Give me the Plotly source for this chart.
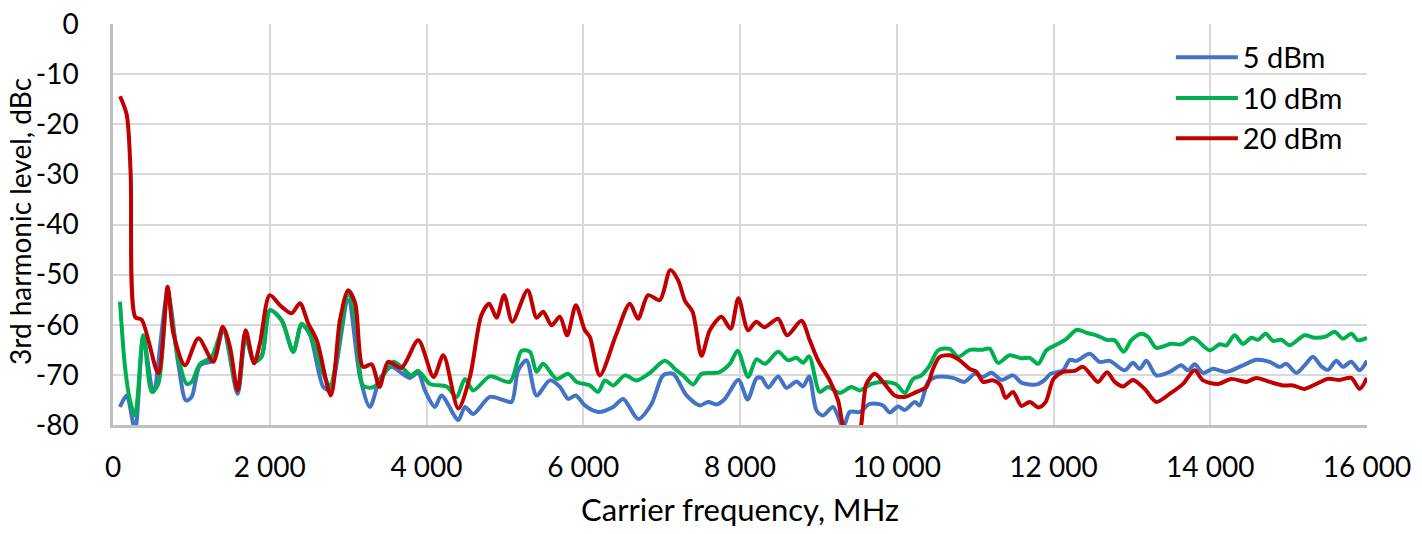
import plotly.graph_objects as go

# ---- data ----
red_f = [90,175,225,285,366,578,697,770,918,1090,1280,1400,1492,1590,1692,1800,1875,2000,2130,2280,2385,2490,2600,2780,2895,3000,3090,3190,3300,3400,3510,3680,3895,4090,4215,4405,4554,4700,4800,4894,4990,5095,5290,5404,5489,5596,5702,5795,5906,6020,6084,6212,6424,6594,6700,6828,6977,7110,7210,7300,7395,7509,7615,7764,7880,7980,8103,8206,8310,8486,8601,8784,8890,8996,9145,9251,9358,9506,9613,9719,9825,9974,10102,10251,10379,10463,10548,10676,10804,10931,11017,11101,11228,11320,11390,11484,11591,11697,11810,11900,12000,12121,12270,12376,12483,12568,12683,12781,12887,13015,13163,13312,13482,13652,13801,13907,14098,14268,14461,14588,14758,14927,15055,15204,15353,15501,15650,15799,15906,16000]
red_db = [-14.4,-18.1,-29.7,-58.5,-59.0,-69.7,-52.4,-61.7,-68.1,-62.7,-67.4,-60.4,-64.4,-73.1,-61.1,-67.7,-63.7,-54.1,-56.1,-57.7,-55.7,-59.7,-63.1,-74.1,-59.1,-53.1,-55.7,-68.4,-67.9,-72.4,-67.4,-68.6,-63.1,-70.4,-66.1,-76.7,-70.4,-58.1,-55.8,-58.6,-54.1,-59.4,-53.1,-58.6,-57.4,-60.1,-58.4,-62.1,-56.1,-61.1,-62.4,-70.1,-61.8,-55.8,-58.8,-54.1,-55.1,-49.1,-51.1,-55.3,-57.4,-66.2,-61.1,-58.4,-60.8,-54.7,-61.1,-59.4,-60.5,-58.8,-62.1,-59.2,-63.1,-67.1,-71.1,-75.1,-82.0,-82.0,-71.8,-69.8,-71.4,-74.1,-74.4,-73.4,-72.4,-68.8,-66.4,-66.1,-67.1,-68.8,-69.4,-71.4,-71.1,-72.0,-74.6,-73.4,-76.2,-75.4,-76.5,-75.4,-70.8,-69.4,-69.2,-68.4,-70.1,-71.4,-69.5,-71.4,-72.3,-71.0,-72.8,-75.4,-73.8,-71.8,-69.1,-71.1,-71.8,-70.8,-71.4,-70.6,-71.4,-72.1,-72.1,-72.8,-71.8,-70.8,-71.0,-70.6,-72.8,-70.6]

green_f = [89,153,217,281,387,494,578,697,812,940,1004,1110,1259,1407,1590,1692,1798,1897,2003,2152,2300,2407,2513,2683,2768,3001,3108,3193,3330,3448,3575,3682,3799,3894,4043,4256,4384,4490,4596,4809,5064,5213,5319,5404,5489,5660,5808,5915,6084,6190,6276,6382,6531,6680,6850,7041,7190,7274,7402,7509,7730,7870,7970,8103,8210,8320,8486,8614,8721,8805,8882,9018,9124,9273,9422,9528,9677,9825,9996,10102,10208,10315,10421,10527,10676,10782,10931,11080,11186,11292,11440,11590,11697,11803,11910,12058,12165,12300,12420,12547,12675,12781,12895,12993,13121,13205,13312,13503,13631,13779,13992,14119,14205,14311,14417,14524,14609,14707,14800,14907,15013,15204,15332,15480,15587,15693,15799,15884,16000]
green_db = [-55.4,-68.4,-75.1,-78.1,-62.1,-73.4,-71.8,-53.8,-65.1,-71.8,-71.4,-67.8,-66.4,-60.8,-73.1,-62.1,-67.4,-66.4,-57.1,-59.1,-65.4,-59.8,-61.8,-69.8,-72.2,-54.0,-60.4,-72.2,-72.4,-70.1,-67.4,-68.4,-70.1,-69.2,-71.8,-72.3,-74.4,-70.8,-73.1,-70.3,-71.4,-65.2,-65.4,-69.4,-67.8,-70.8,-69.8,-71.4,-72.1,-73.4,-71.1,-72.1,-70.1,-71.1,-69.6,-67.2,-69.1,-70.1,-71.9,-69.8,-69.5,-67.8,-65.2,-70.4,-66.9,-67.8,-65.4,-67.1,-66.6,-67.6,-66.3,-73.4,-72.4,-73.6,-72.4,-73.1,-71.8,-71.4,-71.9,-73.6,-70.8,-70.1,-68.1,-65.1,-64.8,-66.4,-65.0,-65.0,-64.8,-67.6,-66.1,-66.7,-66.6,-67.8,-65.1,-63.8,-62.8,-61.0,-61.6,-62.1,-63.0,-63.1,-65.4,-63.1,-61.8,-62.4,-64.6,-63.8,-63.9,-62.6,-65.1,-63.9,-64.1,-62.1,-63.8,-62.6,-63.0,-61.8,-63.2,-63.0,-64.1,-62.1,-62.6,-62.3,-61.4,-62.8,-61.8,-63.1,-62.6]

blue_f = [89,175,281,387,514,697,833,931,1004,1110,1280,1407,1590,1692,1798,1897,2003,2152,2300,2407,2513,2683,2768,3001,3151,3278,3406,3555,3661,3788,3894,3980,4107,4192,4405,4490,4596,4809,4978,5085,5170,5277,5404,5574,5702,5808,5906,6020,6190,6382,6510,6700,6871,7019,7147,7318,7487,7593,7700,7806,7980,8097,8210,8274,8360,8486,8593,8721,8805,8882,8976,9061,9188,9316,9401,9528,9656,9825,9911,10017,10102,10230,10293,10400,10506,10718,10867,10995,11101,11207,11340,11484,11595,11790,11888,11960,12121,12207,12292,12462,12590,12717,12908,13015,13100,13185,13312,13482,13631,13716,13801,13907,14035,14205,14417,14588,14758,14885,14970,15098,15204,15310,15417,15501,15608,15693,15799,15906,16000]
blue_db = [-76.4,-74.1,-81.0,-62.4,-73.4,-53.8,-67.8,-75.1,-74.4,-68.1,-67.1,-61.1,-73.8,-62.4,-67.4,-66.1,-57.1,-59.1,-65.4,-60.0,-62.0,-72.4,-73.0,-55.1,-70.4,-76.4,-70.8,-68.4,-69.4,-70.6,-69.6,-73.1,-76.4,-74.1,-79.0,-76.4,-77.8,-74.4,-75.0,-75.4,-69.1,-67.1,-74.1,-71.1,-72.4,-74.8,-74.1,-76.1,-77.4,-76.4,-74.8,-78.8,-75.8,-70.1,-69.8,-74.1,-76.1,-75.4,-75.9,-74.8,-71.0,-74.9,-70.7,-70.6,-72.5,-70.3,-72.6,-71.3,-72.3,-70.3,-77.1,-78.1,-76.4,-80.4,-77.4,-77.4,-75.8,-76.1,-77.5,-76.3,-77.0,-75.4,-76.1,-71.4,-70.4,-70.6,-71.4,-69.8,-70.4,-69.6,-71.0,-70.1,-71.6,-71.9,-71.0,-69.8,-69.1,-67.0,-67.2,-65.8,-67.4,-67.2,-69.1,-67.6,-68.8,-67.2,-70.1,-69.4,-68.1,-69.1,-67.9,-69.6,-68.8,-69.4,-68.1,-67.0,-67.4,-68.4,-67.8,-69.6,-68.1,-66.4,-68.3,-69.0,-67.2,-68.4,-67.4,-69.1,-67.2]

series_names = ["5 dBm", "10 dBm", "20 dBm"]
x_tickvals = [0, 2000, 4000, 6000, 8000, 10000, 12000, 14000, 16000]
x_ticktext = ["0", "2 000", "4 000", "6 000", "8 000", "10 000", "12 000", "14 000", "16 000"]
y_tickvals = [0, -10, -20, -30, -40, -50, -60, -70, -80]
y_ticktext = ["0", "-10", "-20", "-30", "-40", "-50", "-60", "-70", "-80"]
x_title = "Carrier frequency, MHz"
y_title = "3rd harmonic level, dBc"

FONT = "Lato"
colors = ["#4472C4", "#00B050", "#C00000"]

fig = go.Figure()
data = [(blue_f, blue_db), (green_f, green_db), (red_f, red_db)]
legends = ["legend", "legend2", "legend3"]
for (fx, fy), name, c, lg in zip(data, series_names, colors, legends):
    fig.add_trace(go.Scatter(
        x=fx, y=fy, name=name, mode="lines", showlegend=True,
        line=dict(color=c, width=4, shape="spline", smoothing=0.8),
        legend=lg,
    ))

leg_common = dict(
    x=0.8436, xanchor="left", yanchor="middle", bgcolor="rgba(0,0,0,0)",
    font=dict(family=FONT, size=29, color="#000000"),
    itemwidth=62, borderwidth=0,
)
fig.update_layout(
    width=1422, height=534,
    margin=dict(l=113, r=55, t=24, b=109, autoexpand=False),
    paper_bgcolor="white", plot_bgcolor="white",
    font=dict(family=FONT, size=28, color="#000000"),
    showlegend=True,
    legend=dict(y=0.917, **leg_common),
    legend2=dict(y=0.815, **leg_common),
    legend3=dict(y=0.715, **leg_common),
    xaxis=dict(
        range=[0, 16000], tickvals=x_tickvals, ticktext=x_ticktext,
        showgrid=True, gridcolor="#D9D9D9", gridwidth=2,
        showline=True, linecolor="#BFBFBF", linewidth=2.5, mirror=False,
        zeroline=False, ticks="", ticklabelstandoff=16, automargin=False,
        ticklabeloverflow="allow",
        tickfont=dict(family=FONT, size=28),
        title=dict(text=x_title, font=dict(family=FONT, size=31), standoff=17),
    ),
    yaxis=dict(
        range=[-80, 0], tickvals=y_tickvals, ticktext=y_ticktext,
        showgrid=True, gridcolor="#D9D9D9", gridwidth=2,
        showline=True, linecolor="#BFBFBF", linewidth=2.5,
        zeroline=False, ticks="", ticklabelstandoff=26, automargin=False,
        ticklabeloverflow="allow",
        tickfont=dict(family=FONT, size=28),
    ),
    annotations=[dict(
        text=y_title, textangle=-90, xref="paper", yref="paper",
        x=(20 - 113) / 1254, y=(425 - 222) / 401, xanchor="center", yanchor="middle",
        showarrow=False, font=dict(family=FONT, size=28, color="#000000"),
    )],
)

fig.write_html("out.html", config={"displayModeBar": False},
               post_script="document.body.style.margin='0';")
